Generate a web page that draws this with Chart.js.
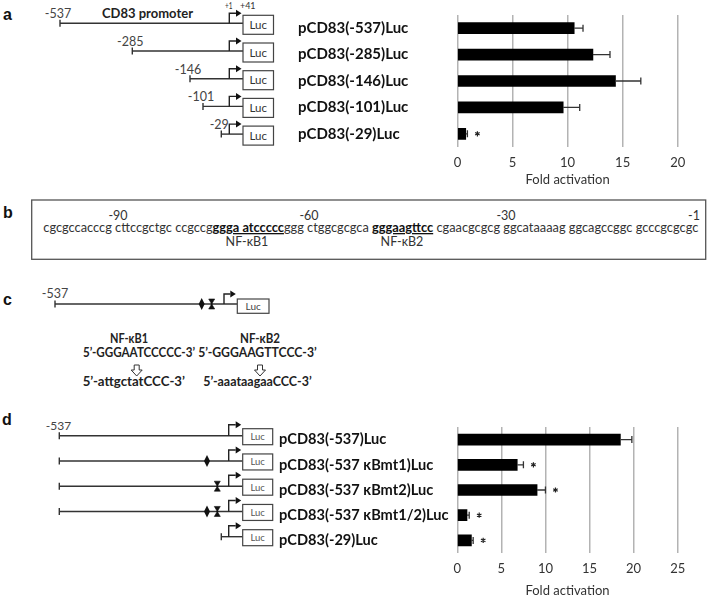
<!DOCTYPE html>
<html><head><meta charset="utf-8">
<script src="https://cdn.jsdelivr.net/npm/chart.js@4.4.1/dist/chart.umd.min.js"></script>
<style>
html,body{margin:0;padding:0;background:#fff;width:709px;height:597px;overflow:hidden;}
#wrap{position:relative;width:709px;height:597px;}
#dia{position:absolute;left:0;top:0;}
canvas{position:absolute;}
</style></head><body>
<div id="wrap">
<svg id="dia" width="709" height="597" xmlns="http://www.w3.org/2000/svg"></svg>
<canvas id="ca" width="411" height="188" style="left:298px;top:0px"></canvas>
<canvas id="cd" width="430" height="199" style="left:279px;top:400px"></canvas>
</div>
<script>
// ---------- data ----------
const aLabels = ['pCD83(-537)Luc','pCD83(-285)Luc','pCD83(-146)Luc','pCD83(-101)Luc','pCD83(-29)Luc'];
const aValues = [10.6, 12.3, 14.35, 9.6, 0.75];
const aErrors = [0.8, 1.55, 2.3, 1.5, 0.15];
const aSignif = [false, false, false, false, true];
const aStarts = ['-537','-285','-146','-101','-29'];
const aMax = 20;

const dLabels = ['pCD83(-537)Luc','pCD83(-537 \u03baBmt1)Luc','pCD83(-537 \u03baBmt2)Luc','pCD83(-537 \u03baBmt1/2)Luc','pCD83(-29)Luc'];
const dValues = [18.5, 6.8, 9.05, 1.1, 1.6];
const dErrors = [1.3, 0.7, 0.95, 0.25, 0.2];
const dSignif = [false, true, true, true, true];
const dMut1 = [false, true, false, true, false];
const dMut2 = [false, false, true, true, false];
const dMax = 25;

const tickStep = 5;
const xTitle = 'Fold activation';

const seqNumbers = ['-90','-60','-30','-1'];
const seqParts = [
  ['cgcgccacccg cttccgctgc ccgccg', false],
  ['ggga atccccc', true],
  ['ggg ctggcgcgca ', false],
  ['gggaagttcc', true],
  [' cgaacgcgcg ggcataaaag ggcagccggc gcccgcgcgc', false]
];
const siteNames = ['NF-\u03baB1','NF-\u03baB2'];
const wildSeqs = ['5\u2019-GGGAATCCCCC-3\u2019','5\u2019-GGGAAGTTCCC-3\u2019'];
const mutSeqs = ['5\u2019-attgctatCCC-3\u2019','5\u2019-aaataagaaCCC-3\u2019'];

// ---------- diagrams (SVG) ----------
const NS = 'http://www.w3.org/2000/svg';
const svg = document.getElementById('dia');
function el(tag, attrs, text){
  const e = document.createElementNS(NS, tag);
  for (const k in attrs) e.setAttribute(k, attrs[k]);
  if (text != null) e.textContent = text;
  svg.appendChild(e); return e;
}
function ln(x1,y1,x2,y2,w,c){ el('line',{x1,y1,x2,y2,stroke:c||'#333','stroke-width':w||1.3}); }
function txt(x,y,s,o){
  o = o||{};
  const a = {x, y, 'font-family': o.family||'Lato', 'font-size': o.size||12,
    'font-weight': o.weight||'normal', fill: o.fill||'#333', 'text-anchor': o.anchor||'start'};
  if (o.len){ a.textLength = o.len; a.lengthAdjust = 'spacingAndGlyphs'; }
  return el('text', a, s);
}
function diamond(x,y){ el('polygon',{points:`${x},${y-6} ${x+3},${y} ${x},${y+6} ${x-3},${y}`, fill:'#111'}); }
function hourglass(x,y){ el('polygon',{points:`${x-3},${y-5} ${x+3},${y-5} ${x+0.6},${y-1} ${x+0.6},${y+1} ${x+3},${y+5} ${x-3},${y+5} ${x-0.6},${y+1} ${x-0.6},${y-1}`, fill:'#111', stroke:'#111','stroke-width':0.6}); }
function construct(p){
  ln(p.tickX, p.y-3.5, p.tickX, p.y+3.5, 1.4);
  ln(p.tickX, p.y, p.boxX, p.y, 1.4);
  const top = p.y - p.arrH;
  el('path',{d:`M${p.arrX},${p.y} V${top} H${p.boxX-7}`, fill:'none', stroke:'#222','stroke-width':1.4});
  el('polygon',{points:`${p.boxX-7},${top-3.5} ${p.boxX-1.5},${top} ${p.boxX-7},${top+3.5}`, fill:'#111'});
  el('rect',{x:p.boxX, y:p.boxTop, width:p.boxW, height:p.boxH, fill:'#fff', stroke:'#444','stroke-width':1.2});
  txt(p.boxX+p.boxW/2, p.boxTop+p.boxH/2+p.lucSize*0.36, 'Luc', {size:p.lucSize, anchor:'middle', fill:p.lucFill});
}

// panel letters
txt(3, 20, 'a', {family:'Liberation Sans', size:16, weight:'bold', fill:'#111'});
txt(3, 218, 'b', {family:'Liberation Sans', size:16, weight:'bold', fill:'#111'});
txt(3, 305, 'c', {family:'Liberation Sans', size:16, weight:'bold', fill:'#111'});
txt(2, 425, 'd', {family:'Liberation Sans', size:16, weight:'bold', fill:'#111'});

// panel a
const aTickX = [60, 132.3, 190, 203, 221.3];
aStarts.forEach((s,i)=>{
  const y = 23.3 + i*27.7;
  construct({tickX:aTickX[i], y, boxX:243, boxTop:y-8, boxW:30.5, boxH:19, arrX:229.3, arrH:10, lucSize:11.5, lucFill:'#333'});
  txt(aTickX[i]-2, y-5, s, {size:12.5, anchor:'middle', fill:'#444'});
});
txt(102, 18, 'CD83 promoter', {size:13.5, weight:'bold', fill:'#222', len:91});
txt(225, 8.5, '+1', {size:9, fill:'#333', len:7.5});
txt(240, 8.5, '+41', {size:9, fill:'#333', len:15.5});

// panel b
el('rect',{x:31.7, y:200, width:674, height:59.3, fill:'none', stroke:'#555','stroke-width':1.3});
const seqT = el('text',{x:43.3, y:232, 'font-family':'Lato','font-size':13, fill:'#333', textLength:655, lengthAdjust:'spacingAndGlyphs'});
seqParts.forEach(([s,b])=>{
  const t = document.createElementNS(NS,'tspan');
  t.textContent = s;
  if (b){ t.setAttribute('font-weight','bold'); t.setAttribute('text-decoration','underline'); t.setAttribute('fill','#111'); }
  seqT.appendChild(t);
});
const numX = [118, 309, 506, 700];
seqNumbers.forEach((s,i)=> txt(numX[i], 220, s, {size:12.5, anchor: i===3?'end':'middle', fill:'#333'}));
txt(247, 246, siteNames[0], {size:12.5, anchor:'middle', fill:'#333'});
txt(402, 246, siteNames[1], {size:12.5, anchor:'middle', fill:'#333'});

// panel c
construct({tickX:55, y:304, boxX:237.3, boxTop:299, boxW:31.7, boxH:14.3, arrX:224, arrH:10, lucSize:10, lucFill:'#444'});
diamond(201.7, 304); hourglass(211.7, 304);
txt(55, 298, '-537', {size:12.5, anchor:'middle', fill:'#444'});
txt(110, 343, siteNames[0], {size:13, weight:'bold', fill:'#222', len:38});
txt(240, 343, siteNames[1], {size:13, weight:'bold', fill:'#222', len:40});
txt(83, 357, wildSeqs[0], {size:13, weight:'bold', fill:'#222', len:112});
txt(198.3, 357, wildSeqs[1], {size:13, weight:'bold', fill:'#222', len:118.4});
txt(82.7, 386, mutSeqs[0], {size:13, weight:'bold', fill:'#222', len:102.3});
txt(203.3, 386, mutSeqs[1], {size:13, weight:'bold', fill:'#222', len:108.4});
[136.7, 260].forEach(cx=>{
  el('path',{d:`M${cx-2.5},365 H${cx+2.5} V370 H${cx+5.5} L${cx},376 L${cx-5.5},370 H${cx-2.5} Z`, fill:'#fff', stroke:'#333','stroke-width':1});
});

// panel d
dLabels.forEach((s,i)=>{
  const y = 435.7 + i*25.25;
  const tx = i===4 ? 221.3 : 59.3;
  construct({tickX:tx, y, boxX:242.7, boxTop:y-7, boxW:30, boxH:16, arrX:228.7, arrH:11, lucSize:9.5, lucFill:'#555'});
  if (dMut1[i]) diamond(207, y);
  if (dMut2[i]) hourglass(217.3, y);
});
txt(58.5, 430, '-537', {size:12, anchor:'middle', fill:'#444'});

// ---------- charts ----------
const errPlugin = {
  id:'errbars',
  afterDatasetsDraw(chart){
    const ds = chart.data.datasets[0];
    const xs = chart.scales.x, ys = chart.scales.y, ctx = chart.ctx;
    ctx.save();
    ds.data.forEach((v,i)=>{
      const y = ys.getPixelForValue(i);
      const x1 = xs.getPixelForValue(v), x2 = xs.getPixelForValue(v + ds.errors[i]);
      ctx.strokeStyle = '#333'; ctx.lineWidth = 1.3;
      ctx.beginPath(); ctx.moveTo(x1,y); ctx.lineTo(x2,y);
      ctx.moveTo(x2,y-3.5); ctx.lineTo(x2,y+3.5); ctx.stroke();
      if (ds.signif[i]){
        const sx = x2 + 10, r = 2.6;
        ctx.beginPath();
        for (let k=0;k<3;k++){
          const a = Math.PI/2 + k*Math.PI/3;
          ctx.moveTo(sx - r*Math.cos(a), y - r*Math.sin(a));
          ctx.lineTo(sx + r*Math.cos(a), y + r*Math.sin(a));
        }
        ctx.lineWidth = 1.2; ctx.strokeStyle = '#222'; ctx.stroke();
      }
    });
    ctx.restore();
  }
};
function makeChart(id, labels, values, errors, signif, xMax, cfg){
  return new Chart(document.getElementById(id), {
    type:'bar',
    data:{labels, datasets:[{data:values, errors, signif, backgroundColor:'#000', borderWidth:0, barThickness:11}]},
    options:{
      indexAxis:'y', responsive:false, animation:false, devicePixelRatio:1,
      layout:{padding:{top:cfg.top, right:cfg.right, left:0, bottom:0}},
      plugins:{legend:{display:false}, tooltip:{enabled:false}},
      scales:{
        x:{min:0, max:xMax,
          ticks:{stepSize:tickStep, font:{family:'Lato', size:13}, color:'#333', padding:8.5, maxRotation:0},
          grid:{color:'#b3b3b3', lineWidth:1.5, drawTicks:false}, border:{display:false},
          title:{display:true, text:xTitle, font:{family:'Lato', size:13, lineHeight:1.2}, color:'#333', padding:{top:0, bottom:0}},
          afterFit(s){ s.height = cfg.xh; }},
        y:{ticks:{crossAlign:'far', font:{family:'Lato', size:cfg.lsize, weight:'bold'}, color:'#111', padding:0},
          grid:{display:false}, border:{display:false},
          afterFit(s){ s.width = cfg.yw; }}
      }
    },
    plugins:[errPlugin]
  });
}
function build(){
  makeChart('ca', aLabels, aValues, aErrors, aSignif, aMax, {top:15, right:31.3, xh:41, yw:159.5, lsize:15});
  makeChart('cd', dLabels, dValues, dErrors, dSignif, dMax, {top:27, right:31.3, xh:46, yw:178.3, lsize:14.6});
}
Promise.all([document.fonts.load('12px Lato'), document.fonts.load('bold 15px Lato')]).then(build, build);
</script>
</body></html>
